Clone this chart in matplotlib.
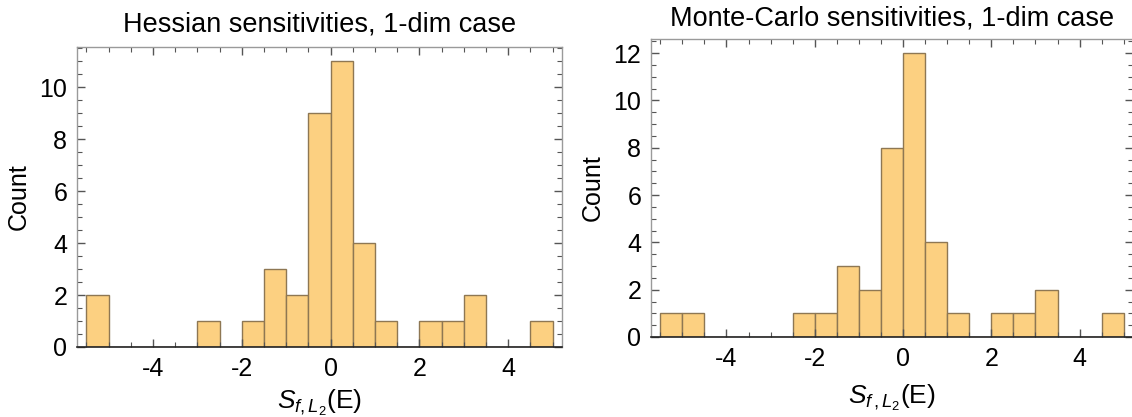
import numpy as np
import matplotlib
matplotlib.use("Agg")
import matplotlib.pyplot as plt
from matplotlib.ticker import MultipleLocator

plt.rcParams['font.family'] = ['Liberation Sans', 'DejaVu Sans']
plt.rcParams['mathtext.fontset'] = 'custom'
plt.rcParams['mathtext.rm'] = 'Liberation Sans'
plt.rcParams['mathtext.it'] = 'Liberation Sans:italic'

# bin edges (width 0.5 from -5.5 to 5.0)
bin_edges = np.arange(-5.5, 5.01, 0.5)
hessian_counts = [2, 0, 0, 0, 0, 1, 0, 1, 3, 2, 9, 11, 4, 1, 0, 1, 1, 2, 0, 0, 1]
montecarlo_counts = [1, 1, 0, 0, 0, 0, 1, 1, 3, 2, 8, 12, 4, 1, 0, 1, 1, 2, 0, 0, 1]
titles = ["Hessian sensitivities, 1-dim case", "Monte-Carlo sensitivities, 1-dim case"]
xlabels = [r"$S_{f,L_2}$(E)", r"$S_{f\,,L_2}$(E)"]

W, H = 1132, 417
fig = plt.figure(figsize=(W / 100, H / 100), dpi=100)

axes_pos = [
    [77 / W, (H - 347) / H, 485 / W, 300 / H],
    [651 / W, (H - 337) / H, 482 / W, 298 / H],
]
title_pads = [11, 10]
xlabel_pads = [5, 9]
fill = '#FCD081'
edge = '#8E7753'
frame = '#9A9A9A'
fs = 18

for i, counts in enumerate([hessian_counts, montecarlo_counts]):
    ax = fig.add_axes(axes_pos[i])
    centers = (bin_edges[:-1] + bin_edges[1:]) / 2
    ax.hist(centers, bins=bin_edges, weights=counts, color=fill,
            edgecolor=edge, linewidth=1.0)
    ymax = max(counts) * 1.05
    ax.set_xlim(-5.71, 5.21)
    ax.set_ylim(0, ymax)
    ax.xaxis.set_major_locator(MultipleLocator(2))
    ax.xaxis.set_minor_locator(MultipleLocator(0.5))
    ax.yaxis.set_major_locator(MultipleLocator(2))
    ax.yaxis.set_minor_locator(MultipleLocator(0.5))
    ax.tick_params(which='both', direction='in', top=True, right=True,
                   color='#555555', labelsize=fs, labelcolor='black', pad=7)
    ax.tick_params(which='major', length=6, width=1.0)
    ax.tick_params(which='minor', length=3.5, width=0.8)
    ax.set_xticks([-4, -2, 0, 2, 4])
    ax.set_xticklabels(['-4', '-2', '0', '2', '4'])
    for side in ['left', 'right', 'top']:
        ax.spines[side].set_color(frame)
        ax.spines[side].set_linewidth(1.0)
    ax.spines['bottom'].set_color('#222222')
    ax.spines['bottom'].set_linewidth(1.2)
    ax.set_title(titles[i], fontsize=19.5, pad=title_pads[i])
    ax.set_ylabel("Count", fontsize=fs, labelpad=6)
    ax.set_xlabel(xlabels[i], fontsize=fs + 1, labelpad=xlabel_pads[i])

fig.savefig("out.png", dpi=100)
